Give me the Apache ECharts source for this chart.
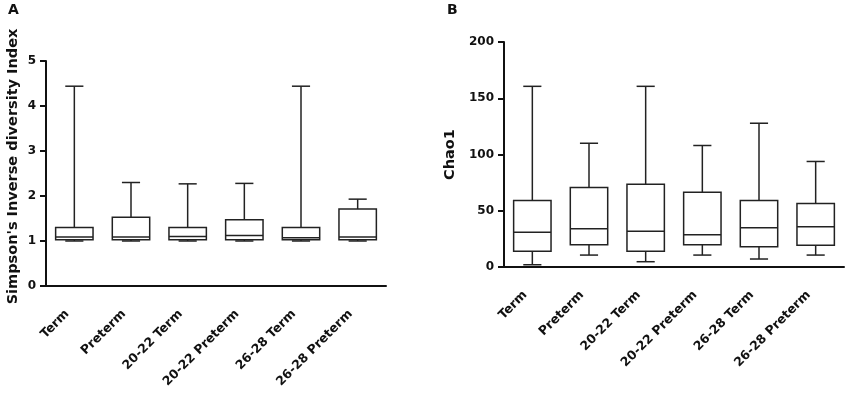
<!DOCTYPE html>
<html>
<head>
<meta charset="utf-8">
<script src="https://cdn.jsdelivr.net/npm/echarts@6/dist/echarts.min.js"></script>
<style>html,body{margin:0;padding:0;background:#fff}#c{width:851px;height:397px}</style>
</head>
<body>
<div id="c"></div>
<script>
var categories = ['Term', 'Preterm', '20-22 Term', '20-22 Preterm', '26-28 Term', '26-28 Preterm'];

// Panel A: Simpson's Inverse diversity Index  (min, Q1, median, Q3, max)
var simpsonMin    = [1.00, 1.00, 1.00, 1.00, 1.00, 1.00];
var simpsonQ1     = [1.03, 1.03, 1.03, 1.03, 1.03, 1.03];
var simpsonMedian = [1.09, 1.09, 1.10, 1.12, 1.07, 1.09];
var simpsonQ3     = [1.30, 1.53, 1.30, 1.47, 1.30, 1.71];
var simpsonMax    = [4.44, 2.30, 2.27, 2.28, 4.44, 1.93];

// Panel B: Chao1
var chaoMin    = [2, 10.6, 4.7, 10.6, 7.1, 10.6];
var chaoQ1     = [13.9, 19.8, 13.9, 19.8, 18.0, 19.3];
var chaoMedian = [30.8, 34.0, 31.7, 28.7, 34.9, 35.8];
var chaoQ3     = [59.2, 70.7, 73.6, 66.5, 59.2, 56.5];
var chaoMax    = [160.6, 110.0, 160.6, 108.0, 127.8, 93.8];

var ticksA = [0, 1, 2, 3, 4, 5];
var ticksB = [0, 50, 100, 150, 200];

function build(mn, q1, md, q3, mx) {
  return categories.map(function (c, i) { return [i, mn[i], q1[i], md[i], q3[i], mx[i]]; });
}

var FONT = 'DejaVu Sans';
var LINE = '#222';

function renderBox(params, api) {
  var x = api.value(0);
  var pMin = api.coord([x, api.value(1)]);
  var pQ1 = api.coord([x, api.value(2)]);
  var pMed = api.coord([x, api.value(3)]);
  var pQ3 = api.coord([x, api.value(4)]);
  var pMax = api.coord([x, api.value(5)]);
  var band = api.size([1, 0])[0];
  var half = band * 0.33;
  var cap = band * 0.16;
  var cx = pQ1[0];
  var st = { stroke: LINE, lineWidth: 1.5, fill: null };
  return {
    type: 'group',
    children: [
      { type: 'line', shape: { x1: cx, y1: pQ3[1], x2: cx, y2: pMax[1] }, style: st },
      { type: 'line', shape: { x1: cx, y1: pQ1[1], x2: cx, y2: pMin[1] }, style: st },
      { type: 'line', shape: { x1: cx - cap, y1: pMax[1], x2: cx + cap, y2: pMax[1] }, style: st },
      { type: 'line', shape: { x1: cx - cap, y1: pMin[1], x2: cx + cap, y2: pMin[1] }, style: st },
      { type: 'rect', shape: { x: cx - half, y: pQ3[1], width: half * 2, height: pQ1[1] - pQ3[1] }, style: { stroke: LINE, lineWidth: 1.5, fill: '#fff' } },
      { type: 'line', shape: { x1: cx - half, y1: pMed[1], x2: cx + half, y2: pMed[1] }, style: st }
    ]
  };
}

function xAxisCfg(gi) {
  return {
    type: 'category', gridIndex: gi, data: categories, boundaryGap: true,
    axisLine: { lineStyle: { color: '#111', width: 2 } },
    axisTick: { alignWithLabel: true, length: 6, lineStyle: { color: '#111', width: 2 } },
    axisLabel: { rotate: 45, margin: 19, padding: [0, 10, 0, 0], color: '#111', fontFamily: FONT, fontWeight: 'bold', fontSize: 12.5, interval: 0 }
  };
}
function yAxisCfg(gi, ticks, name, gap, namePad) {
  return {
    type: 'value', gridIndex: gi, min: ticks[0], max: ticks[ticks.length - 1], interval: ticks[1] - ticks[0],
    name: name, nameLocation: 'middle', nameGap: gap,
    nameTextStyle: { color: '#111', fontFamily: FONT, fontWeight: 'bold', fontSize: 14.5, padding: namePad },
    axisLine: { show: true, lineStyle: { color: '#111', width: 2 } },
    axisTick: { show: true, length: 6, lineStyle: { color: '#111', width: 2 } },
    axisLabel: { margin: 10, color: '#111', fontFamily: FONT, fontWeight: 'bold', fontSize: 12 },
    splitLine: { show: false }
  };
}

var chart = echarts.init(document.getElementById('c'), null, { renderer: 'canvas' });
chart.setOption({
  backgroundColor: '#fff',
  animation: false,
  title: [
    { text: 'A', left: 3, top: -2, textStyle: { fontFamily: FONT, fontWeight: 'bold', fontSize: 14, color: '#111' } },
    { text: 'B', left: 442, top: -2, textStyle: { fontFamily: FONT, fontWeight: 'bold', fontSize: 14, color: '#111' } }
  ],
  grid: [
    { left: 46, top: 61, width: 340, height: 225 },
    { left: 504, top: 42, width: 340, height: 225 }
  ],
  xAxis: [xAxisCfg(0), xAxisCfg(1)],
  yAxis: [yAxisCfg(0, ticksA, "Simpson's Inverse diversity Index", 25, [0, 0, 0, 14]), yAxisCfg(1, ticksB, 'Chao1', 46, 0)],
  series: [
    { type: 'custom', xAxisIndex: 0, yAxisIndex: 0, renderItem: renderBox, data: build(simpsonMin, simpsonQ1, simpsonMedian, simpsonQ3, simpsonMax), encode: { x: 0, y: [1, 2, 3, 4, 5] } },
    { type: 'custom', xAxisIndex: 1, yAxisIndex: 1, renderItem: renderBox, data: build(chaoMin, chaoQ1, chaoMedian, chaoQ3, chaoMax), encode: { x: 0, y: [1, 2, 3, 4, 5] } }
  ]
});
</script>
</body>
</html>
